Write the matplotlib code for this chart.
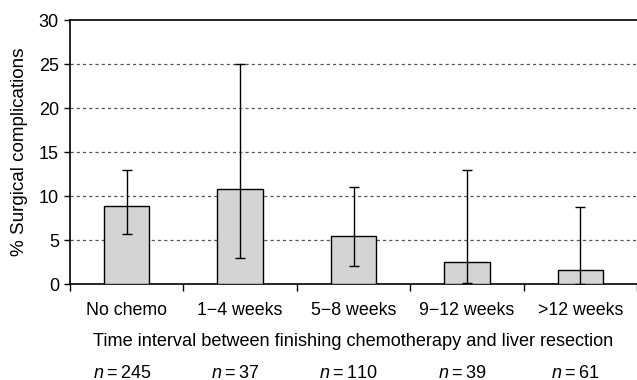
import matplotlib
matplotlib.use("Agg")
import matplotlib.pyplot as plt
import numpy as np
from matplotlib.ticker import FixedLocator
import matplotlib.transforms as mtransforms

plt.rcParams['font.family'] = ['Liberation Sans', 'DejaVu Sans']
plt.rcParams['mathtext.fontset'] = 'custom'
plt.rcParams['mathtext.it'] = 'Liberation Sans:italic'
plt.rcParams['mathtext.rm'] = 'Liberation Sans'

categories = ["No chemo", "1\u22124 weeks", "5\u22128 weeks", "9\u221212 weeks", ">12 weeks"]
values = [8.9, 10.8, 5.4, 2.5, 1.6]
err_low = [5.7, 3.0, 2.0, 0.1, 0.0]
err_high = [13.0, 25.0, 11.0, 13.0, 8.7]
n_counts = [245, 37, 110, 39, 61]
yticks = [0, 5, 10, 15, 20, 25, 30]

fig = plt.figure(figsize=(6.37, 3.8), dpi=100)
ax = fig.add_axes([0.110, 0.2526, 0.89, 0.6947])

x = np.arange(len(categories))
vals = np.array(values)
yerr = np.vstack([vals - np.array(err_low), np.array(err_high) - vals])
ax.bar(x, vals, width=0.40, color="#d4d4d4", edgecolor="black", linewidth=1.0, zorder=3)
ax.errorbar(x, vals, yerr=yerr, fmt="none", ecolor="black", elinewidth=1.0,
            capsize=3.5, capthick=1.0, zorder=4)

ax.set_xlim(-0.5, len(categories) - 0.5)
ax.set_ylim(0, 30)
ax.set_yticks(yticks)
for yv in yticks[1:-1]:
    ax.axhline(yv, color="#555555", linestyle=(0, (2.5, 2.5)), linewidth=0.9, zorder=1)

ax.set_xticks(x)
ax.set_xticklabels(categories, fontsize=12.8)
ax.xaxis.set_minor_locator(FixedLocator(np.arange(-0.5, len(categories), 1.0)))
ax.tick_params(axis="x", which="major", length=0, pad=13)
ax.tick_params(axis="x", which="minor", length=5, width=1.0, direction="out")
ax.tick_params(axis="y", length=4, width=1.0, labelsize=13, pad=4)

for s in ["left", "bottom", "top"]:
    ax.spines[s].set_linewidth(1.2)
ax.spines["right"].set_visible(False)

ax.set_ylabel("% Surgical complications", fontsize=13.6, labelpad=8)
ax.set_xlabel("Time interval between finishing chemotherapy and liver resection", fontsize=13.1, labelpad=10)

trans = mtransforms.blended_transform_factory(ax.transData, fig.transFigure)
for xi, n in zip(x, n_counts):
    ax.text(xi - 0.04, 1 - 373 / 380, r"$n$" + f"\u2009=\u2009{n}", transform=trans,
            ha="center", va="center", fontsize=13)

fig.savefig("out.png", dpi=100)
